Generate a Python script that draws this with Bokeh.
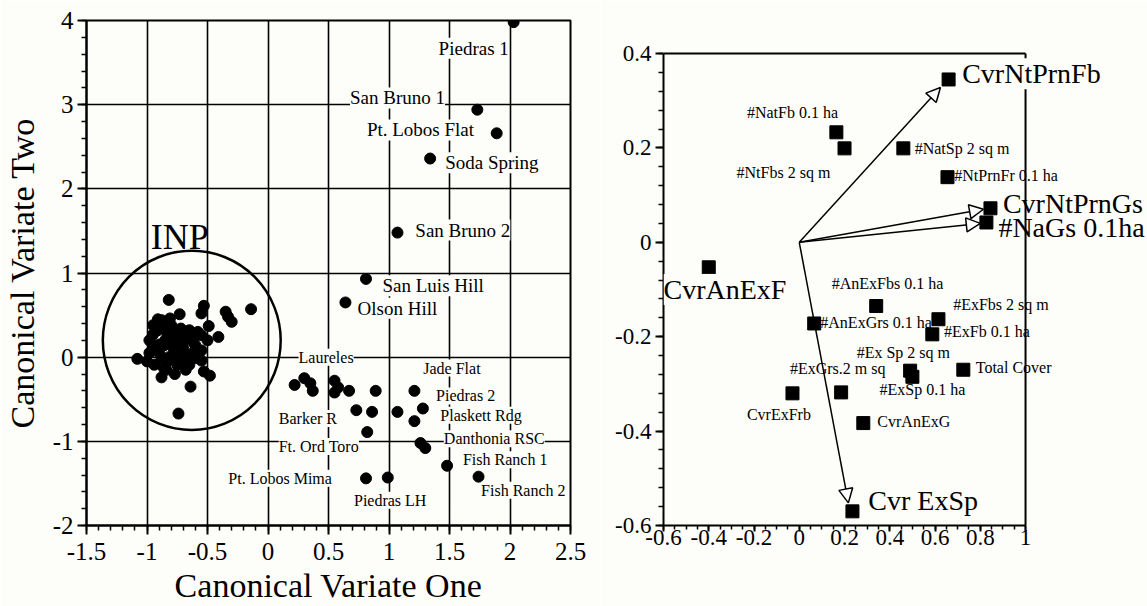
from bokeh.plotting import figure
from bokeh.models import FixedTicker, Label, Arrow, NormalHead, Range1d
from bokeh.layouts import row
from bokeh.embed import file_html
from bokeh.resources import INLINE

FONT = "Liberation Serif"
BG = "#fdfdf9"

# ---------------- Left panel data (canonical variate scores) ----------------
inp_x = [-0.82, -0.14, -0.53, -0.55, -0.35, -0.33, -0.30, -0.49, -0.41, -0.50,
         -0.55, -0.73, -0.81, -0.91, -0.88, -0.95, -1.08, -0.98, -0.95, -1.00,
         -0.94, -0.88, -0.77, -0.64, -0.74, -0.53, -0.48, -0.55, -0.55, -0.65,
         -0.71, -0.83, -0.72, -0.65, -0.64, -0.86, -0.77, -0.88, -0.83, -0.75,
         -0.71, -0.80, -0.91, -0.60, -0.69, -0.75, -0.67, -0.86, -0.98, -0.80,
         -0.73, -0.95, -0.60, -0.90, -0.84, -0.68, -0.62, -0.78, -0.70,
         -0.85, -0.78, -0.70, -0.62, -0.82, -0.90, -0.75, -0.66, -0.58, -0.87]
inp_y = [0.68, 0.57, 0.61, 0.52, 0.54, 0.48, 0.42, 0.37, 0.24, 0.20,
         0.26, 0.51, 0.46, 0.45, 0.44, 0.38, -0.02, 0.20, 0.11, -0.05,
         -0.09, -0.24, -0.20, -0.35, -0.67, -0.17, -0.22, -0.04, 0.08, -0.09,
         0.02, 0.26, 0.34, 0.32, 0.22, 0.14, 0.07, -0.01, -0.05, -0.09,
         0.14, 0.19, 0.32, 0.14, 0.22, 0.01, -0.01, -0.13, 0.05, 0.38,
         0.26, 0.27, -0.01, 0.05, -0.15, -0.15, 0.05, 0.30, -0.05,
         0.20, 0.10, 0.10, 0.18, 0.00, 0.15, 0.18, -0.05, 0.30, 0.35]

site_x = [2.03, 1.73, 1.89, 1.34, 1.07, 0.81, 0.64,
          0.22, 0.30, 0.35, 0.37, 0.55, 0.58, 0.55, 0.67, 0.89, 0.73, 0.86,
          0.82, 1.07, 1.21, 1.28, 1.21, 1.26, 1.30, 1.48, 1.74, 0.81, 0.99]
site_y = [3.98, 2.94, 2.66, 2.36, 1.48, 0.93, 0.65,
          -0.33, -0.25, -0.31, -0.40, -0.28, -0.36, -0.42, -0.40, -0.40, -0.63, -0.65,
          -0.89, -0.65, -0.40, -0.61, -0.76, -1.02, -1.08, -1.29, -1.42, -1.44, -1.43]

big_site_names = ["Piedras 1", "San Bruno 1", "Pt. Lobos Flat", "Soda Spring",
                  "San Bruno 2", "San Luis Hill", "Olson Hill"]
big_site_lx = [1.70, 1.07, 1.26, 1.85, 1.61, 1.365, 1.07]
big_site_ly = [3.67, 3.08, 2.70, 2.31, 1.51, 0.85, 0.58]

small_site_names = ["Laureles", "Jade Flat", "Piedras  2", "Plaskett Rdg", "Barker R",
                    "Danthonia RSC", "Ft. Ord Toro", "Fish Ranch 1", "Fish Ranch 2",
                    "Pt. Lobos Mima", "Piedras LH"]
small_site_lx = [0.48, 1.52, 1.65, 1.76, 0.33, 1.87, 0.42, 1.96, 2.11, 0.10, 1.01]
small_site_ly = [0.00, -0.13, -0.46, -0.69, -0.73, -0.97, -1.06, -1.22, -1.58, -1.44, -1.70]

left_xticks = [-1.5, -1, -0.5, 0, 0.5, 1, 1.5, 2, 2.5]
left_xlabels = ["-1.5", "-1", "-0.5", "0", "0.5", "1", "1.5", "2", "2.5"]
left_yticks = [-2, -1, 0, 1, 2, 3, 4]
left_ylabels = ["-2", "-1", "0", "1", "2", "3", "4"]

# ---------------- Right panel data (structure coefficients) ----------------
var_names = ["CvrNtPrnFb", "#NatFb 0.1 ha", "#NtFbs 2 sq m", "#NatSp 2 sq m",
             "#NtPrnFr 0.1 ha", "CvrNtPrnGs", "#NaGs 0.1ha", "CvrAnExF",
             "#AnExFbs 0.1 ha", "#AnExGrs 0.1 ha", "#ExFbs 2 sq m", "#ExFb 0.1 ha",
             "#Ex Sp 2 sq m", "#ExSp 0.1 ha", "Total Cover", "#ExGrs.2 m sq",
             "CvrExFrb", "CvrAnExG", "Cvr ExSp"]
var_x = [0.66, 0.164, 0.20, 0.46, 0.655, 0.845, 0.827, -0.40, 0.34, 0.066,
         0.615, 0.588, 0.49, 0.50, 0.725, 0.185, -0.03, 0.283, 0.235]
var_y = [0.345, 0.233, 0.199, 0.199, 0.138, 0.072, 0.042, -0.053, -0.135, -0.172,
         -0.163, -0.195, -0.272, -0.285, -0.27, -0.318, -0.32, -0.383, -0.57]
var_lx = [0.72, -0.03, -0.07, 0.51, 0.685, 0.90, 0.88, -0.60, 0.39, 0.093,
          0.68, 0.64, 0.46, 0.544, 0.78, 0.17, -0.09, 0.345, 0.305]
var_ly = [0.357, 0.275, 0.148, 0.199, 0.142, 0.083, 0.032, -0.10, -0.087, -0.169,
          -0.131, -0.19, -0.233, -0.311, -0.266, -0.267, -0.364, -0.38, -0.546]
var_align = ["left", "center", "center", "left", "left", "left", "left", "left",
             "center", "left", "left", "left", "center", "center", "left", "center",
             "center", "left", "left"]
var_big = ["CvrNtPrnFb", "CvrNtPrnGs", "#NaGs 0.1ha", "CvrAnExF", "Cvr ExSp"]
var_boxed = ["CvrNtPrnFb", "CvrAnExF", "Cvr ExSp"]

arrow_x_end = [0.624, 0.814, 0.800, 0.217]
arrow_y_end = [0.328, 0.070, 0.040, -0.552]

right_xticks = [-0.6, -0.4, -0.2, 0, 0.2, 0.4, 0.6, 0.8, 1]
right_xlabels = ["-0.6", "-0.4", "-0.2", "0", "0.2", "0.4", "0.6", "0.8", "1"]
right_yticks = [-0.6, -0.4, -0.2, 0, 0.2, 0.4]
right_ylabels = ["-0.6", "-0.4", "-0.2", "0", "0.2", "0.4"]

TOP, BOTTOM, H = 20, 81, 606


def style_axis(ax, tick_size, maj_out, min_out, standoff):
    ax.axis_line_color = "black"
    ax.axis_line_width = 2
    ax.major_tick_line_color = "black"
    ax.major_tick_line_width = 2
    ax.minor_tick_line_color = "black"
    ax.minor_tick_line_width = 1.5
    ax.major_tick_in = 0
    ax.major_tick_out = maj_out
    ax.minor_tick_in = 0
    ax.minor_tick_out = min_out
    ax.major_label_text_font = FONT
    ax.major_label_text_font_size = tick_size
    ax.major_label_text_color = "black"
    ax.major_label_text_line_height = 1.0
    ax.major_label_standoff = standoff
    ax.axis_label_text_font = FONT
    ax.axis_label_text_font_style = "normal"
    ax.axis_label_text_color = "black"
    ax.axis_label_text_line_height = 1.0


# ---------------- Left figure ----------------
left = figure(width=600, height=H, x_range=Range1d(-1.5, 2.5), y_range=Range1d(-2, 4),
              output_backend="svg", toolbar_location=None,
              min_border_left=81, min_border_right=30, min_border_top=TOP, min_border_bottom=BOTTOM,
              background_fill_color=BG, border_fill_color=BG,
              outline_line_color="black", outline_line_width=2)

left.xaxis.ticker = FixedTicker(ticks=left_xticks,
                                minor_ticks=[round(-1.5 + 0.1 * i, 2) for i in range(41)])
left.yaxis.ticker = FixedTicker(ticks=left_yticks,
                                minor_ticks=[round(-2 + 0.2 * i, 2) for i in range(31)])
left.xaxis.major_label_overrides = dict(zip(left_xticks, left_xlabels))
left.yaxis.major_label_overrides = dict(zip(left_yticks, left_ylabels))
style_axis(left.xaxis[0], "25px", 9, 5, 8)
style_axis(left.yaxis[0], "25px", 9, 5, 4)
left.xaxis.axis_label = "Canonical Variate One"
left.yaxis.axis_label = "Canonical Variate Two"
left.xaxis.axis_label_text_font_size = "34px"
left.yaxis.axis_label_text_font_size = "34px"
left.xaxis.axis_label_standoff = 4
left.yaxis.axis_label_standoff = 9
left.grid.grid_line_color = "black"
left.grid.grid_line_width = 1.6

left.ellipse(x=[-0.63], y=[0.20], width=1.47, height=2.13,
             fill_color=None, line_color="black", line_width=2.5)
left.scatter(inp_x, inp_y, marker="circle", size=11, color="black")
left.scatter(site_x, site_y, marker="circle", size=11, color="black")

left.add_layout(Label(x=-0.73, y=1.43, text="INP", text_font=FONT, text_font_size="36px",
                      text_align="center", text_baseline="middle", text_color="black"))
for n, lx, ly in zip(big_site_names, big_site_lx, big_site_ly):
    left.add_layout(Label(x=lx, y=ly, text=n, text_font=FONT, text_font_size="19px",
                          text_align="center", text_baseline="middle", text_color="black",
                          background_fill_color=BG))
for n, lx, ly in zip(small_site_names, small_site_lx, small_site_ly):
    left.add_layout(Label(x=lx, y=ly, text=n, text_font=FONT, text_font_size="16px",
                          text_align="center", text_baseline="middle", text_color="black",
                          background_fill_color=BG))

# ---------------- Right figure ----------------
# frame spans the full width to the page edge so that labels past x=1 are not clipped;
# the visible box (x up to 1, y up to 0.4) is drawn as two edge lines.
right = figure(width=547, height=H, x_range=Range1d(-0.6, 1.539), y_range=Range1d(-0.6, 0.4699),
               output_backend="svg", toolbar_location=None,
               min_border_left=63, min_border_right=0, min_border_top=TOP, min_border_bottom=BOTTOM,
               background_fill_color=BG, border_fill_color=BG,
               outline_line_color=None)
right.xaxis.ticker = FixedTicker(ticks=right_xticks,
                                 minor_ticks=[round(-0.6 + 0.05 * i, 3) for i in range(33)])
right.yaxis.ticker = FixedTicker(ticks=right_yticks,
                                 minor_ticks=[round(-0.6 + 0.04 * i, 3) for i in range(26)])
right.xaxis.bounds = (-0.6, 1.0)
right.yaxis.bounds = (-0.6, 0.4)
right.xaxis.major_label_overrides = dict(zip(right_xticks, right_xlabels))
right.yaxis.major_label_overrides = dict(zip(right_yticks, right_ylabels))
style_axis(right.xaxis[0], "23px", 6, 4, -2)
style_axis(right.yaxis[0], "23px", 8, 5, 4)
right.grid.grid_line_color = None

right.segment(x0=[-0.6, 1.0], y0=[0.4, -0.6], x1=[1.0, 1.0], y1=[0.4, 0.4],
              line_color="black", line_width=2)
right.scatter(var_x, var_y, marker="square", size=13, color="black")

for xe, ye in zip(arrow_x_end, arrow_y_end):
    right.add_layout(Arrow(end=NormalHead(size=14, fill_color="white", line_color="black",
                                          line_width=1.5),
                           x_start=0, y_start=0, x_end=xe, y_end=ye,
                           line_color="black", line_width=1.5))

for n, lx, ly, al in zip(var_names, var_lx, var_ly, var_align):
    right.add_layout(Label(x=lx, y=ly, text=n, text_font=FONT,
                           text_font_size="28px" if n in var_big else "16px",
                           text_align=al, text_baseline="middle", text_color="black",
                           background_fill_color=BG if n in var_boxed else None))

layout = row(left, right)
open("out.html", "w").write(file_html(layout, INLINE))
